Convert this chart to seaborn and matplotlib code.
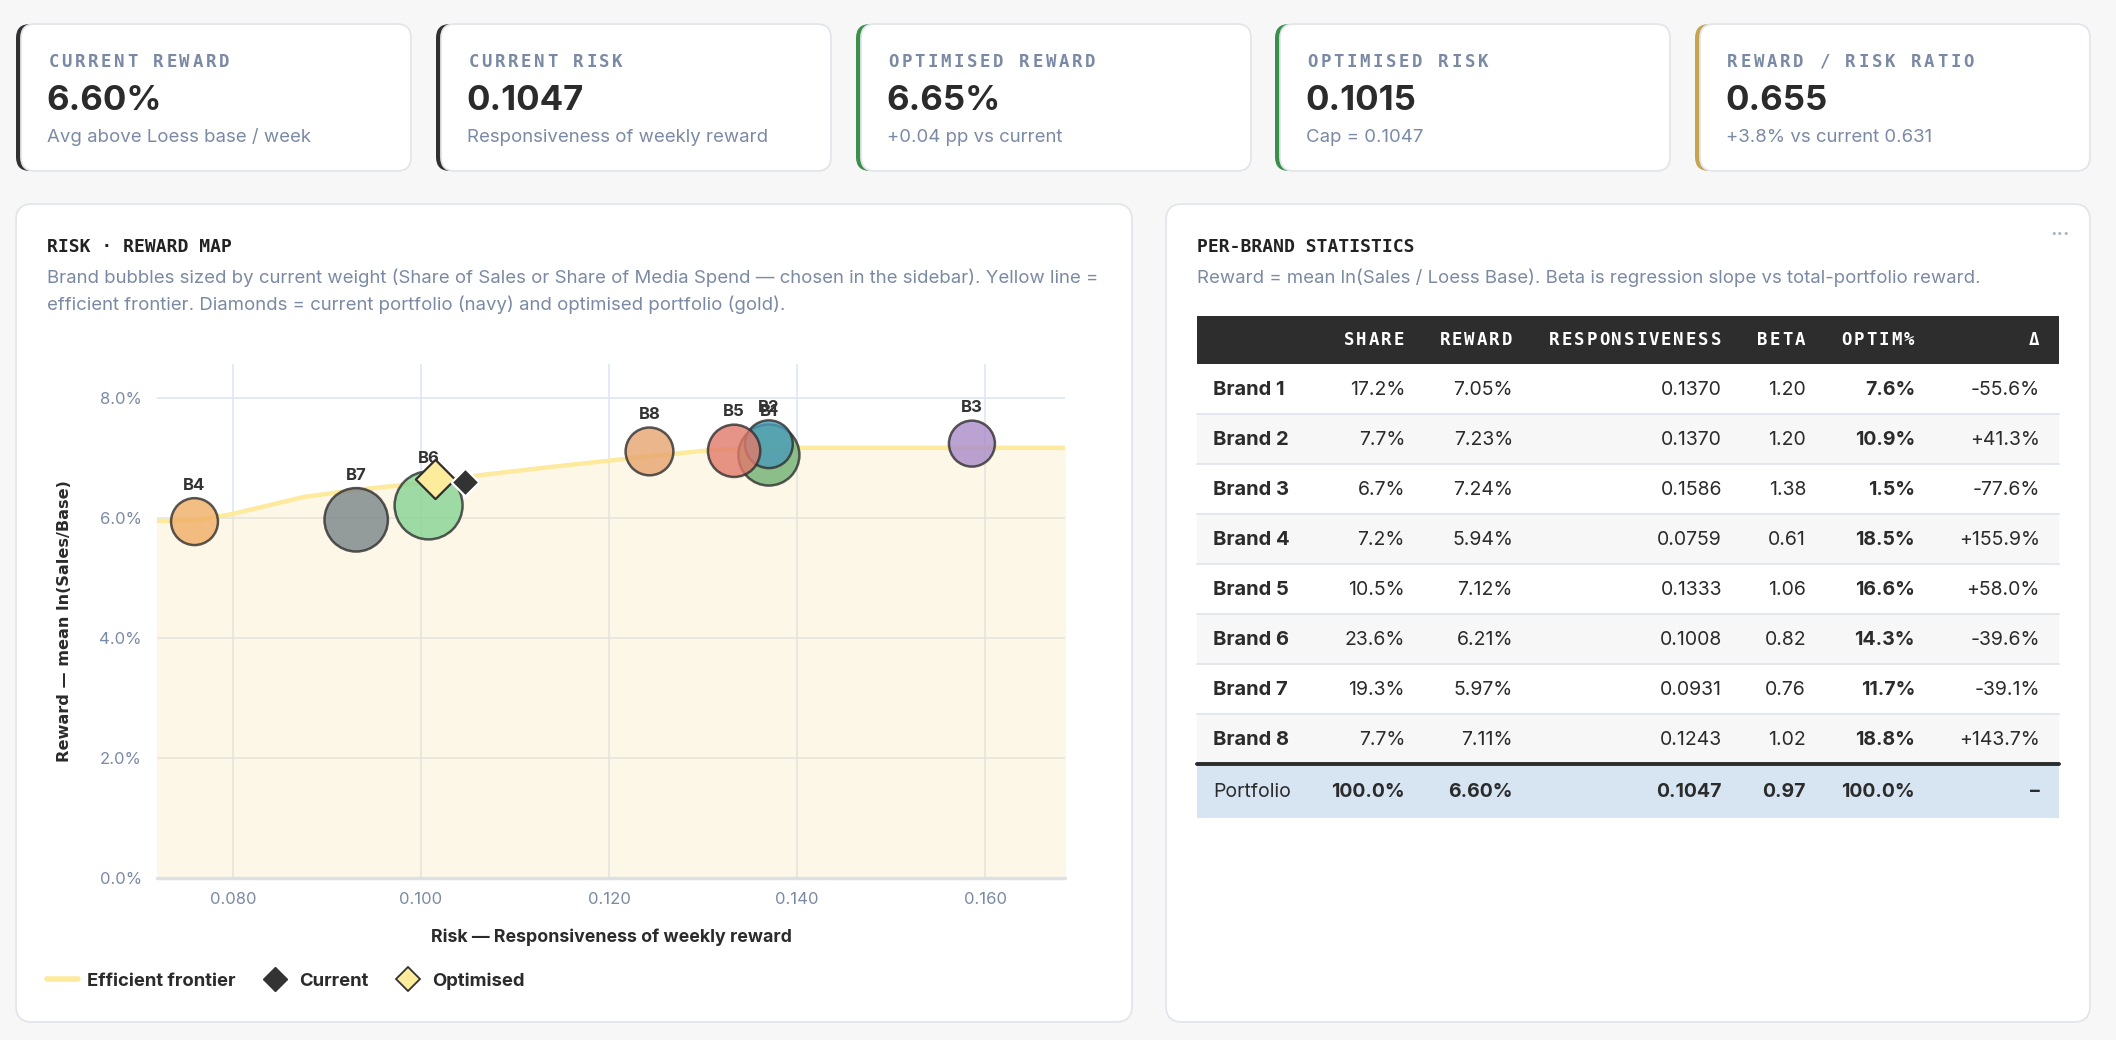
import numpy as np
import pandas as pd
import matplotlib
matplotlib.use('Agg')
import matplotlib.pyplot as plt
import seaborn as sns
from matplotlib.patches import FancyBboxPatch, Rectangle
from matplotlib.lines import Line2D

# ---------------- data ----------------
brands = ['B1', 'B2', 'B3', 'B4', 'B5', 'B6', 'B7', 'B8']
brand_names = ['Brand 1', 'Brand 2', 'Brand 3', 'Brand 4', 'Brand 5', 'Brand 6', 'Brand 7', 'Brand 8']
share = [17.2, 7.7, 6.7, 7.2, 10.5, 23.6, 19.3, 7.7]
reward = [7.05, 7.23, 7.24, 5.94, 7.12, 6.21, 5.97, 7.11]
risk = [0.1370, 0.1370, 0.1586, 0.0759, 0.1333, 0.1008, 0.0931, 0.1243]
beta = [1.20, 1.20, 1.38, 0.61, 1.06, 0.82, 0.76, 1.02]
optim = [7.6, 10.9, 1.5, 18.5, 16.6, 14.3, 11.7, 18.8]
delta = [-55.6, 41.3, -77.6, 155.9, 58.0, -39.6, -39.1, 143.7]
brand_colors = ['#6fb072', '#4a9cb8', '#a98bc9', '#f0ae66', '#e27a6b', '#86d394', '#7a8488', '#e6a46e']

frontier_risk = [0.0700, 0.0760, 0.0800, 0.0875, 0.0931, 0.1000, 0.1066, 0.1137, 0.1244, 0.1307, 0.1350, 0.1400, 0.1700]
frontier_reward = [5.95, 5.96, 6.07, 6.35, 6.47, 6.58, 6.72, 6.85, 7.03, 7.13, 7.16, 7.17, 7.17]

current_risk, current_reward = 0.1047, 6.60
optimised_risk, optimised_reward = 0.1015, 6.65

portfolio_row = ['Portfolio', '100.0%', '6.60%', '0.1047', '0.97', '100.0%', '–']

kpi_labels = ['CURRENT REWARD', 'CURRENT RISK', 'OPTIMISED REWARD', 'OPTIMISED RISK', 'REWARD / RISK RATIO']
kpi_values = ['6.60%', '0.1047', '6.65%', '0.1015', '0.655']
kpi_notes = ['Avg above Loess base / week', 'Responsiveness of weekly reward',
             '+0.04 pp vs current', 'Cap = 0.1047', '+3.8% vs current 0.631']
kpi_accents = ['#303030', '#303030', '#3c8f4a', '#3c8f4a', '#c7a451']

table_headers = ['SHARE', 'REWARD', 'RESPONSIVENESS', 'BETA', 'OPTIM%', 'Δ']
x_ticks = [0.08, 0.10, 0.12, 0.14, 0.16]
y_ticks = [0, 2, 4, 6, 8]

# ---------------- style ----------------
sns.set_style('white')
plt.rcParams['font.family'] = ['Inter', 'DejaVu Sans']
MONO = 'DejaVu Sans Mono'
DARK = '#2b2b2b'
MUTED = '#7b8aa4'

W, H = 2116, 1040
fig = plt.figure(figsize=(W / 100, H / 100), dpi=100)
fig.patch.set_facecolor('#f7f7f7')

bg = fig.add_axes([0, 0, 1, 1], zorder=0)
bg.set_xlim(0, W)
bg.set_ylim(H, 0)
bg.axis('off')


def box(x, y, w, h, r, accent=None):
    if accent:
        bg.add_patch(FancyBboxPatch((x, y), w, h, boxstyle=f'round,pad=0,rounding_size={r}',
                                    fc=accent, ec='none'))
        x, w = x + 5, w - 5
    bg.add_patch(FancyBboxPatch((x, y), w, h, boxstyle=f'round,pad=0,rounding_size={r}',
                                fc='white', ec='#e2e6eb', lw=1.3))


def spaced(x, y, s, pitch, right=False, **kw):
    # monospace text with letter spacing
    if right:
        x = x - len(s) * pitch
    for i, ch in enumerate(s):
        bg.text(x + (i + 0.5) * pitch, y, ch, ha='center', va='center', family=MONO, **kw)


# KPI cards
card_x = [16, 436, 856, 1275, 1695]
for cx, lab, val, note, acc in zip(card_x, kpi_labels, kpi_values, kpi_notes, kpi_accents):
    box(cx, 24, 395, 147, 14, accent=acc)
    spaced(cx + 31, 62, lab, 13.1, fontsize=12.5, fontweight='bold', color=MUTED)
    bg.text(cx + 30, 101, val, fontsize=25, fontweight='bold', color=DARK, va='center')
    bg.text(cx + 31, 137, note, fontsize=13.4, color=MUTED, va='center')

# panels
box(16, 204, 1116, 818, 16)
box(1166, 204, 924, 818, 16)

bg.text(47, 247, 'RISK · REWARD MAP', family=MONO, fontsize=13, fontweight='bold', color='#222222', va='center')
bg.text(47, 278, 'Brand bubbles sized by current weight (Share of Sales or Share of Media Spend — chosen in the sidebar). Yellow line =',
        fontsize=13.4, color=MUTED, va='center')
bg.text(47, 305, 'efficient frontier. Diamonds = current portfolio (navy) and optimised portfolio (gold).',
        fontsize=13.4, color=MUTED, va='center')

bg.text(1197, 247, 'PER-BRAND STATISTICS', family=MONO, fontsize=13, fontweight='bold', color='#222222', va='center')
bg.text(1197, 278, 'Reward = mean ln(Sales / Loess Base). Beta is regression slope vs total-portfolio reward.',
        fontsize=13.4, color=MUTED, va='center')
bg.text(2060, 234, '•••', family='DejaVu Sans', fontsize=8, color='#aab4c4', ha='center', va='center')

# ---------------- table ----------------
tx0, tx1 = 1197, 2059
col_right = [1405, 1513, 1722, 1806, 1915, 2040]
bg.add_patch(Rectangle((tx0, 316), tx1 - tx0, 48, fc='#2d2d2d', ec='none'))
for hdr, xr in zip(table_headers, col_right):
    spaced(xr, 340, hdr, 12.4, right=True, fontsize=12.5, fontweight='bold', color='white')

for i in range(len(brand_names)):
    top = 364 + 50 * i
    if i % 2 == 1:
        bg.add_patch(Rectangle((tx0, top), tx1 - tx0, 50, fc='#f7f7f8', ec='none'))
    bg.plot([tx0, tx1], [top + 50, top + 50], color='#e4e8ee', lw=1.5)
    yc = top + 26
    cells = [f'{share[i]:.1f}%', f'{reward[i]:.2f}%', f'{risk[i]:.4f}', f'{beta[i]:.2f}',
             f'{optim[i]:.1f}%', f'{delta[i]:+.1f}%']
    bg.text(1213, yc, brand_names[i], fontsize=14.5, fontweight='bold', color=DARK, va='center')
    for j, (txt, xr) in enumerate(zip(cells, col_right)):
        bg.text(xr, yc, txt, fontsize=14, color=DARK, ha='right', va='center',
                fontweight='bold' if j == 4 else 'normal')

bg.add_patch(Rectangle((tx0, 764), tx1 - tx0, 54, fc='#d7e5f2', ec='none'))
bg.plot([tx0, tx1], [764, 764], color='#2b2b2b', lw=2.8)
bg.text(1213, 792, portfolio_row[0], fontsize=14, color=DARK, va='center')
for txt, xr in zip(portfolio_row[1:], col_right):
    bg.text(xr, 792, txt, fontsize=14, fontweight='bold', color=DARK, ha='right', va='center')

# ---------------- risk / reward map ----------------
ax = fig.add_axes([157 / W, 1 - 878 / H, 908 / W, 514 / H], zorder=1)
ax.set_facecolor('white')

df = pd.DataFrame({'brand': brands, 'risk': risk, 'reward': reward, 'share': share})
diam_px = 20.9 + 9.69 * np.sqrt(df['share'])
areas = dict(zip(brands, (diam_px * 0.72) ** 2))

ax.fill_between(frontier_risk, 0, frontier_reward, color='#fbe2a0', alpha=0.25, lw=0, zorder=1)
sns.lineplot(x=frontier_risk, y=frontier_reward, sort=False, color='#fdea9c', lw=3.2, ax=ax, zorder=2)
sns.scatterplot(data=df, x='risk', y='reward', hue='brand', palette=dict(zip(brands, brand_colors)),
                size='brand', sizes=areas, alpha=0.8, edgecolor='#2f2f2f', linewidth=1.8,
                legend=False, ax=ax, zorder=3)

for b, xv, yv, d in zip(brands, risk, reward, diam_px):
    ax.annotate(b, (xv, yv), xytext=(0, (d / 2 + 13) * 0.72), textcoords='offset points',
                ha='center', va='center', fontsize=12, fontweight='bold', color='#333333', zorder=3.5)

ax.scatter([optimised_risk], [optimised_reward], marker='D', s=400, fc='#fdec9c', ec='#2f2f2f', lw=1.6, zorder=5)
ax.scatter([current_risk], [current_reward], marker='D', s=200, fc='#333333', ec='white', lw=1.6, zorder=6)

ax.set_xlim(0.07191, 0.1685)
ax.set_ylim(0, 8.567)
ax.set_xticks(x_ticks)
ax.set_yticks(y_ticks)
ax.set_xticklabels([f'{t:.3f}' for t in x_ticks])
ax.set_yticklabels([f'{t:.1f}%' for t in y_ticks])
ax.tick_params(length=0, labelsize=12, labelcolor=MUTED)
ax.tick_params(axis='y', pad=11)
ax.tick_params(axis='x', pad=10)
ax.grid(True, color='#dae6f2', lw=1.1)
ax.set_axisbelow(True)
for s in ax.spines.values():
    s.set_visible(False)
ax.axhline(0, color='#dde1e4', lw=2.5, zorder=1.5, clip_on=False)

ax.set_xlabel('Risk — Responsiveness of weekly reward', fontsize=12.8, fontweight='bold', color=DARK, va='center')
ax.xaxis.set_label_coords(0.5, -(937 - 878) / 514)
ax.set_ylabel('Reward — mean ln(Sales/Base)', family='DejaVu Sans', fontsize=11.6, fontweight='bold',
              color=DARK, va='center', ha='center')
ax.yaxis.set_label_coords((65 - 157) / 908, 0.5)

handles = [
    Line2D([0], [0], color='#fdea9c', lw=4, label='Efficient frontier'),
    Line2D([0], [0], marker='D', color='none', markerfacecolor='#333333', markeredgecolor='#333333',
           markersize=12, label='Current'),
    Line2D([0], [0], marker='D', color='none', markerfacecolor='#fdec9c', markeredgecolor='#333333',
           markeredgewidth=1.3, markersize=12, label='Optimised'),
]
leg = fig.legend(handles=handles, loc='center left', bbox_to_anchor=(47 / W, 1 - 981 / H), ncol=3,
                 frameon=False, borderaxespad=0, borderpad=0, handlelength=1.7, handletextpad=0.45,
                 columnspacing=1.3, prop={'weight': 'bold', 'size': 13.3})
for t in leg.get_texts():
    t.set_color(DARK)

fig.savefig('out.png', dpi=100, facecolor=fig.get_facecolor())
